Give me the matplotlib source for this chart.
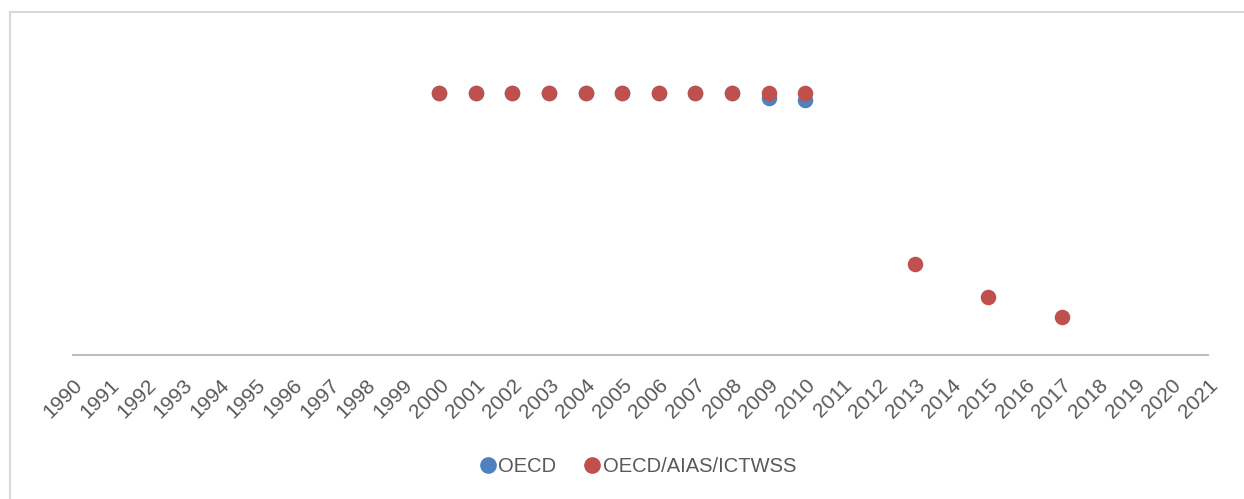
import matplotlib.pyplot as plt
from matplotlib.lines import Line2D

plt.rcParams['font.family'] = ['Liberation Sans', 'DejaVu Sans']

years_all = list(range(1990, 2022))

oecd_years = [2000, 2001, 2002, 2003, 2004, 2005, 2006, 2007, 2008, 2009, 2010]
oecd_vals = [78.2, 78.2, 78.2, 78.2, 78.2, 78.2, 78.2, 78.2, 78.2, 76.7, 76.1]

mix_years = [2000, 2001, 2002, 2003, 2004, 2005, 2006, 2007, 2008, 2009, 2010, 2013, 2015, 2017]
mix_vals = [78.2, 78.2, 78.2, 78.2, 78.2, 78.2, 78.2, 78.2, 78.2, 78.2, 78.2, 27.2, 17.3, 11.3]

fig = plt.figure(figsize=(12.44, 4.99), dpi=100)
ax = fig.add_axes([73 / 1244, 144 / 499, (1208 - 73) / 1244, 335 / 499])

ax.scatter(oecd_years, oecd_vals, s=125, color='#4F81BD', label='OECD', zorder=3, linewidths=0)
ax.scatter(mix_years, mix_vals, s=125, color='#C0504D', label='OECD/AIAS/ICTWSS', zorder=4, linewidths=0)

ax.set_xlim(1990, 2021)
ax.set_ylim(0, 100)
ax.set_xticks(years_all)
ax.set_xticklabels([str(y) for y in years_all], rotation=45, ha='right',
                   rotation_mode='anchor', fontsize=15, color='#595959')
ax.tick_params(axis='x', length=0, pad=15)
ax.set_yticks([])
for s in ['top', 'right', 'left']:
    ax.spines[s].set_visible(False)
ax.spines['bottom'].set_color('#BFBFBF')
ax.spines['bottom'].set_linewidth(1.5)

handles = [Line2D([], [], marker='o', linestyle='', color='#4F81BD', markersize=11),
           Line2D([], [], marker='o', linestyle='', color='#C0504D', markersize=11)]
fig.legend(handles, ['OECD', 'OECD/AIAS/ICTWSS'], loc='center', bbox_to_anchor=(0.512, 0.066),
           ncol=2, frameon=False, fontsize=14.5, labelcolor='#595959',
           handletextpad=0.0, columnspacing=1.3, handlelength=1.0)

# chart area border (top and left edges)
fig.add_artist(Line2D([10 / 1244, 1], [1 - 12 / 499, 1 - 12 / 499], color='#D9D9D9', lw=1.5,
                      transform=fig.transFigure))
fig.add_artist(Line2D([10 / 1244, 10 / 1244], [0, 1 - 12 / 499], color='#D9D9D9', lw=1.5,
                      transform=fig.transFigure))

fig.savefig('out.png', dpi=100)
